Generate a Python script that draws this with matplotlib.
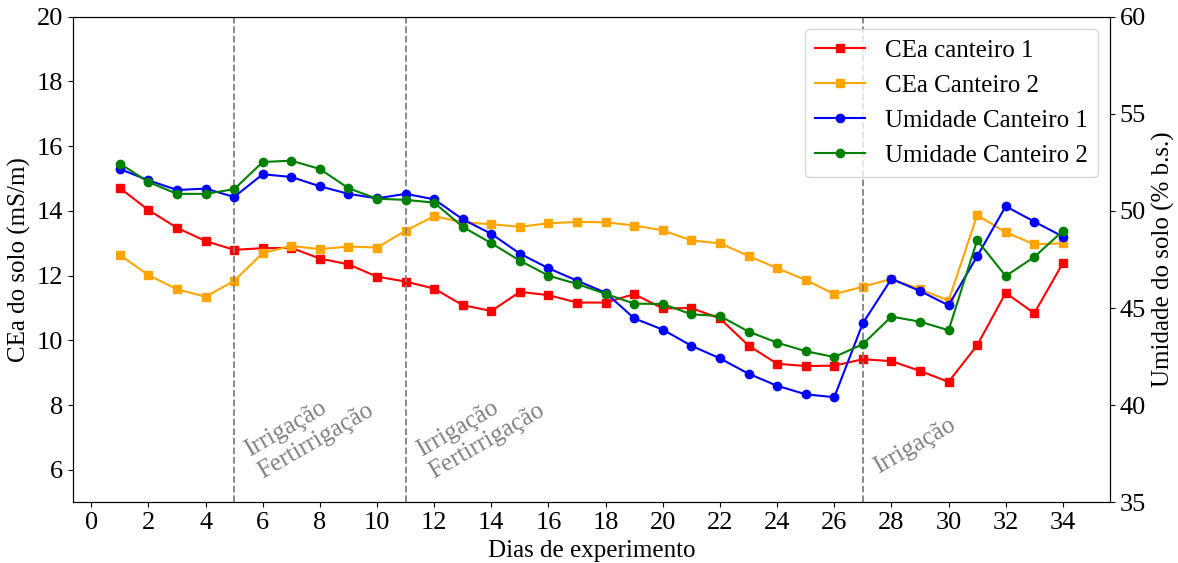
import matplotlib
matplotlib.use("Agg")
import matplotlib.pyplot as plt

plt.rcParams['font.family'] = ['Liberation Serif', 'DejaVu Serif']
plt.rcParams['font.size'] = 18
plt.rcParams['xtick.labelsize'] = 19
plt.rcParams['ytick.labelsize'] = 19

dias = list(range(1, 35))

cea_canteiro1 = [14.71, 14.03, 13.48, 13.07, 12.80, 12.85, 12.86, 12.53, 12.35, 11.97,
                 11.82, 11.60, 11.09, 10.91, 11.50, 11.40, 11.17, 11.17, 11.43, 10.99,
                 11.00, 10.68, 9.84, 9.28, 9.21, 9.22, 9.42, 9.36, 9.06, 8.72,
                 9.85, 11.47, 10.84, 12.39]
cea_canteiro2 = [12.64, 12.02, 11.58, 11.35, 11.84, 12.70, 12.92, 12.82, 12.90, 12.87,
                 13.39, 13.84, 13.65, 13.59, 13.51, 13.62, 13.66, 13.65, 13.55, 13.40,
                 13.09, 13.00, 12.61, 12.23, 11.87, 11.43, 11.66, 11.90, 11.58, 11.23,
                 13.87, 13.34, 12.97, 13.00]
umidade_canteiro1 = [52.16, 51.58, 51.08, 51.15, 50.72, 51.89, 51.75, 51.27, 50.88, 50.65,
                     50.88, 50.60, 49.57, 48.82, 47.80, 47.05, 46.41, 45.79, 44.47, 43.89,
                     43.06, 42.41, 41.62, 41.00, 40.56, 40.41, 44.22, 46.50, 45.88, 45.14,
                     47.67, 50.24, 49.45, 48.68]
umidade_canteiro2 = [52.44, 51.49, 50.88, 50.88, 51.12, 52.52, 52.59, 52.16, 51.17, 50.63,
                     50.57, 50.43, 49.18, 48.34, 47.44, 46.67, 46.24, 45.73, 45.23, 45.21,
                     44.68, 44.59, 43.79, 43.22, 42.78, 42.48, 43.14, 44.56, 44.30, 43.86,
                     48.49, 46.65, 47.63, 48.97]

eventos_dia = [5, 11, 27]
eventos_texto = ['Irrigação\nFertirrigação', 'Irrigação\nFertirrigação', 'Irrigação']

fig = plt.figure(figsize=(11.78, 5.63), dpi=100)
fig.subplots_adjust(left=0.0617, right=0.9423, bottom=0.1078, top=0.9703)
ax = fig.add_subplot(111)
ax2 = ax.twinx()

l1, = ax.plot(dias, cea_canteiro1, color='red', marker='s', markersize=6, label='CEa canteiro 1')
l2, = ax.plot(dias, cea_canteiro2, color='orange', marker='s', markersize=6, label='CEa Canteiro 2')
l3, = ax2.plot(dias, umidade_canteiro1, color='blue', marker='o', markersize=6, label='Umidade Canteiro 1')
l4, = ax2.plot(dias, umidade_canteiro2, color='green', marker='o', markersize=6, label='Umidade Canteiro 2')

for d, txt in zip(eventos_dia, eventos_texto):
    ax.axvline(d, color='gray', linestyle='--', linewidth=1.3)
    ax.text(d + 0.25, 5.6 if '\n' in txt else 5.75, txt, rotation=30, color='gray',
            ha='left', va='bottom', fontsize=18)

ax.set_ylim(5, 20)
ax.set_yticks(range(6, 21, 2))
ax2.set_ylim(35, 60)
ax2.set_yticks(range(35, 61, 5))
ax.set_xticks(range(0, 35, 2))

ax.set_xlabel('Dias de experimento')
ax.set_ylabel('CEa do solo (mS/m)')
ax2.set_ylabel('Umidade do solo (% b.s.)')

ax2.legend(handles=[l1, l2, l3, l4], loc='upper right', fontsize=18)

fig.savefig('out.png', dpi=100)
